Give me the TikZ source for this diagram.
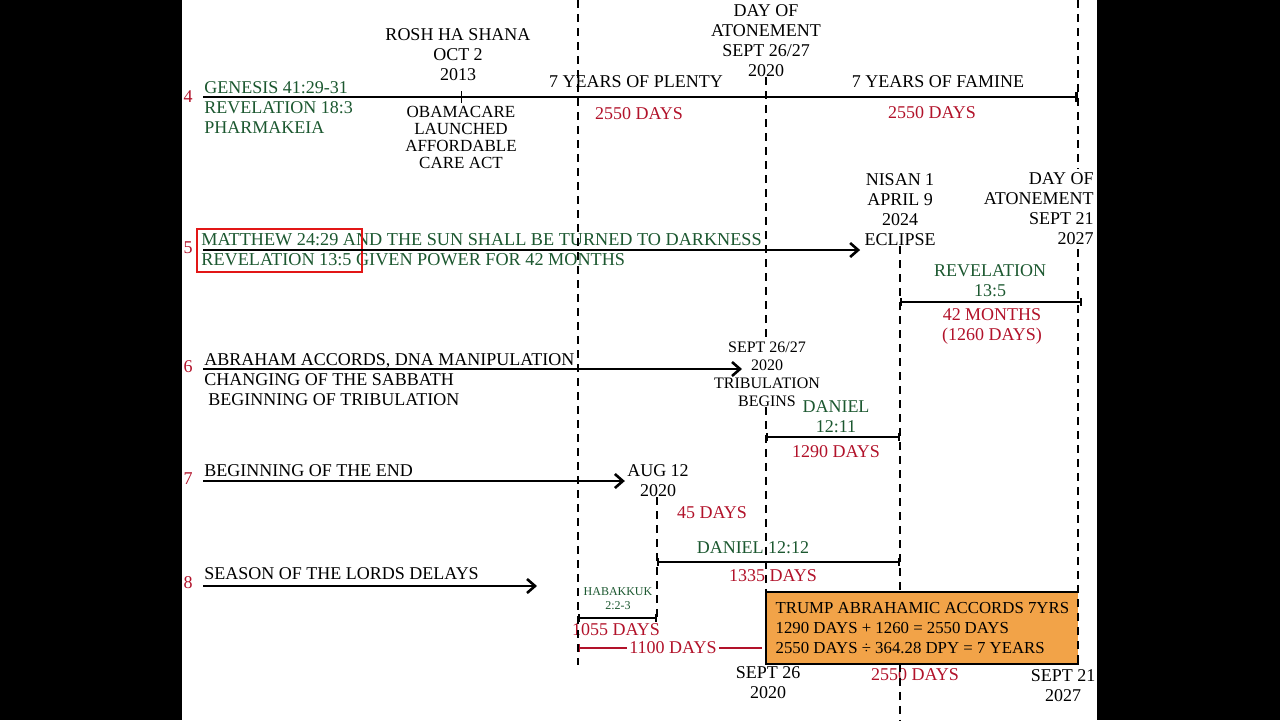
\documentclass[tikz,border=0pt]{standalone}
\usepackage{fontspec}
\setmainfont{Liberation Serif}
\usetikzlibrary{positioning,arrows.meta}
\definecolor{vgreen}{RGB}{28,88,48}
\definecolor{vred}{RGB}{178,18,42}
\definecolor{vorange}{RGB}{242,163,72}
\definecolor{hlred}{RGB}{226,22,22}
\tikzset{
  >={Straight Barb[length=4pt,width=7pt]},
  every node/.style={inner sep=0pt,align=center,font=\fontsize{9}{10}\selectfont},
}

\begin{document}
\begin{tikzpicture}[
  x=0.5pt,y=-0.5pt,
  rownum/.style={text=vred},
  verse/.style={text=vgreen},
  days/.style={text=vred},
  small/.style={font=\fontsize{8.5}{8.5}\selectfont},
  smaller/.style={font=\fontsize{8}{9}\selectfont},
  era/.style={line width=1.3pt},
  span/.style={line width=1pt,{Bar[width=4pt]}-{Bar[width=4pt]}},
  guide/.style={line width=1pt,dash pattern=on 4pt off 3pt},
  accord/.style={fill=vorange,minimum width=156pt,minimum height=35.5pt,align=left,
    font=\fontsize{8.4}{10}\selectfont},
]
  % frame
  \fill[black] (0,0) rectangle (1280,720);
  \fill[white] (182,0) rectangle (1097,720);
  \useasboundingbox (0,0) rectangle (1280,720);

  % row numbers
  \foreach \n/\y in {4/97,5/248,6/367,7/479,8/583}
    \node[rownum] (n\n) at (188,\y) {\n};

  % row 4
  \node[verse,align=left,anchor=west] (gen) at (204,108) {GENESIS 41:29-31\\REVELATION 18:3\\PHARMAKEIA};
  \node (rosh) at (458,55) {ROSH HA SHANA\\OCT 2\\2013};
  \node[small] (obama) at (461,137) {OBAMACARE\\LAUNCHED\\AFFORDABLE\\CARE ACT};
  \node (atone20) at (766,41) {DAY OF\\ATONEMENT\\SEPT 26/27\\2020};
  \node (plenty) at (636,82) {7 YEARS OF PLENTY};
  \node (famine) at (938,82) {7 YEARS OF FAMINE};
  \node[days] (plentydays) at (639,114) {2550 DAYS};
  \node[days] (faminedays) at (932,113) {2550 DAYS};
  \coordinate (r4a) at (203,97);
  \coordinate (r4b) at (1078,97);
  \draw[era,-{Bar[width=5pt]}] (r4a) -- (r4b);
  \draw ([yshift=3pt]r4a -| obama) -- ([yshift=-3pt]r4a -| obama);

  % row 5
  \node[verse,anchor=west,font=\fontsize{9.1}{10}\selectfont] (matt) at (201,240) {MATTHEW 24:29 AND THE SUN SHALL BE TURNED TO DARKNESS};
  \node[verse,anchor=west,font=\fontsize{9.1}{10}\selectfont] (rev) at (201,260) {REVELATION 13:5 GIVEN POWER FOR 42 MONTHS};
  \node[draw=hlred,line width=1.2pt,minimum width=82.5pt,minimum height=21.5pt,anchor=north west] (hl) at (196,228) {};
  \node (eclipse) at (900,210) {NISAN 1\\APRIL 9\\2024\\ECLIPSE};
  \node[align=right,anchor=east] (atone27) at (1094,209) {DAY OF\\ATONEMENT\\SEPT 21\\2027};
  \coordinate (r5a) at (203,250);
  \draw[era,->] (r5a) -- ([xshift=-2pt]r5a -| eclipse.west);
  \node[verse] (rev135) at (990,281) {REVELATION\\13:5};
  \coordinate (s5a) at (900,302);
  \coordinate (s5b) at (1082,302);
  \draw[span] (s5a) -- (s5b);
  \node[days] (months) at (992,326) {42 MONTHS\\(1260 DAYS)};

  % row 6
  \node[align=left,anchor=west] (abr) at (204,380) {ABRAHAM ACCORDS, DNA MANIPULATION\\CHANGING OF THE SABBATH\\\hspace*{2pt}BEGINNING OF TRIBULATION};
  \node[smaller] (trib) at (767,374) {SEPT 26/27\\2020\\TRIBULATION\\BEGINS};
  \coordinate (r6a) at (203,369);
  \coordinate (r6b) at (742,369);
  \draw[era,->] (r6a) -- (r6b);
  \node[verse] (dan11) at (836,417) {DANIEL\\12:11};
  \coordinate (s6a) at (766,437);
  \coordinate (s6b) at (900,437);
  \draw[span] (s6a) -- (s6b);
  \node[days] (days1290) at (836,452) {1290 DAYS};

  % row 7
  \node[anchor=west] (end) at (204,471) {BEGINNING OF THE END};
  \node (aug) at (658,481) {AUG 12\\2020};
  \coordinate (r7a) at (203,481);
  \draw[era,->] (r7a) -- ([xshift=-1pt]r7a -| aug.west);
  \node[days] (days45) at (712,513) {45 DAYS};
  \node[verse] (dan12) at (753,548) {DANIEL 12:12};
  \coordinate (s7a) at (657,562);
  \coordinate (s7b) at (900,562);
  \draw[span] (s7a) -- (s7b);
  \node[days] (days1335) at (773,576) {1335 DAYS};

  % row 8
  \node[anchor=west] (delays) at (204,574) {SEASON OF THE LORDS DELAYS};
  \coordinate (r8a) at (203,586);
  \coordinate (r8b) at (537,586);
  \draw[era,->] (r8a) -- (r8b);
  \node[verse,font=\fontsize{6}{7}\selectfont] (hab) at (618,599) {HABAKKUK\\2:2-3};
  \coordinate (s8a) at (578,618);
  \coordinate (s8b) at (657,618);
  \draw[span] (s8a) -- (s8b);
  \node[days] (days1055) at (616,630) {1055 DAYS};
  \node[accord,anchor=north west] (box) at (766,592) {TRUMP ABRAHAMIC ACCORDS 7YRS\\1290 DAYS + 1260 = 2550 DAYS\\2550 DAYS ÷ 364.28 DPY = 7 YEARS};
  \draw[line width=0.8pt] (box.north east) -- (box.north west) -- (box.south west) -- (box.south east);
  \coordinate (l8a) at (578,648);
  \draw[vred,line width=1pt,{Bar[width=4pt]}-,shorten >=2pt] (l8a) -- (l8a -| box.west);
  \node[days,fill=white,inner xsep=1pt] (days1100) at (673,648) {1100 DAYS};
  \node (sept26) at (768,683) {SEPT 26\\2020};
  \node[days] (days2550) at (915,675) {2550 DAYS};
  \node (sept21) at (1063,686) {SEPT 21\\2027};

  % dashed guides
  \coordinate (g1a) at (578,0);
  \coordinate (g1b) at (578,665);
  \draw[guide] (g1a) -- (g1b);
  \draw[guide] (atone20.south) -- (trib.north -| atone20);
  \draw[guide] (trib.south -| box.west) -- (box.north west);
  \draw[guide] (eclipse.south) -- (eclipse |- box.north);
  \coordinate (g3b) at (900,720);
  \draw[guide] (eclipse |- box.south) -- (g3b);
  \coordinate (g4a) at (1078,0);
  \draw[guide] (g4a) -- ([yshift=2pt]g4a |- atone27.north);
  \draw[guide] ([yshift=-2pt]g4a |- atone27.south) -- (g4a |- box.south);
  \draw[guide] (aug.south -| s8b) -- (s8b);
\end{tikzpicture}
\end{document}
